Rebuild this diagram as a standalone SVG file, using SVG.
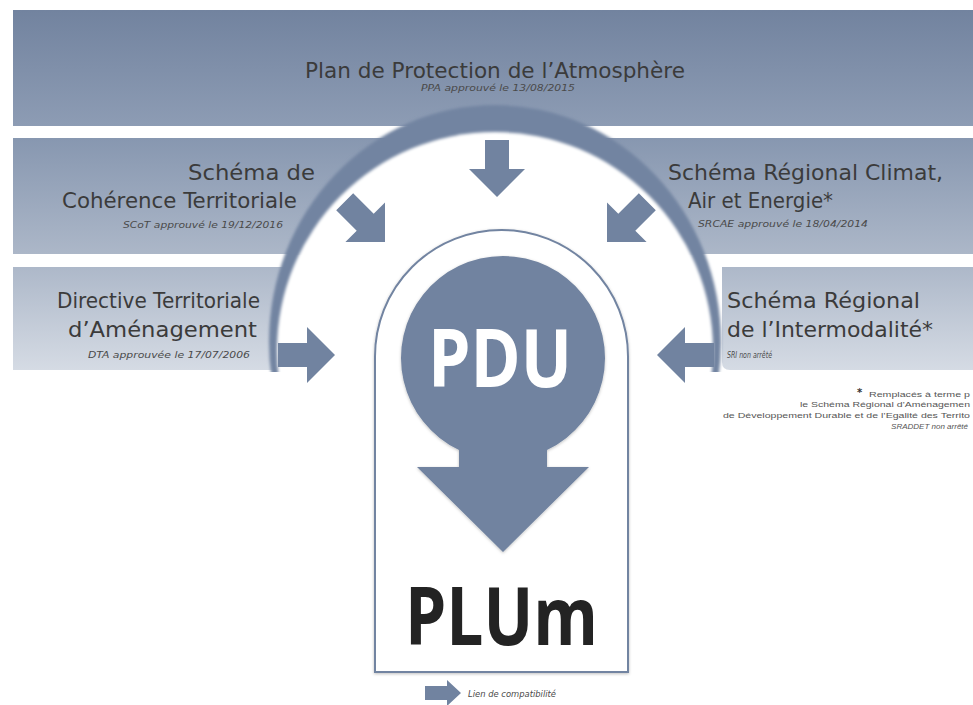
<svg xmlns="http://www.w3.org/2000/svg" xmlns:xlink="http://www.w3.org/1999/xlink" width="973" height="705" viewBox="0 0 973 705">
  <defs>
    <linearGradient id="g1" x1="0" y1="0" x2="0" y2="1">
      <stop offset="0" stop-color="#72839f"/>
      <stop offset="1" stop-color="#8d9cb4"/>
    </linearGradient>
    <linearGradient id="g2" x1="0" y1="0" x2="0" y2="1">
      <stop offset="0" stop-color="#8797b0"/>
      <stop offset="1" stop-color="#acb7c8"/>
    </linearGradient>
    <linearGradient id="g3" x1="0" y1="0" x2="0" y2="1">
      <stop offset="0" stop-color="#adb8c9"/>
      <stop offset="1" stop-color="#d5dbe4"/>
    </linearGradient>
    <clipPath id="ringClip">
      <rect x="0" y="0" width="973" height="372"/>
    </clipPath>
    <filter id="soft" x="-10%" y="-10%" width="120%" height="120%">
      <feGaussianBlur stdDeviation="1.6"/>
    </filter>
    <filter id="shadow" x="-10%" y="-10%" width="120%" height="120%">
      <feDropShadow dx="0" dy="1" stdDeviation="1.5" flood-color="#000" flood-opacity="0.25"/>
    </filter>
    <path id="arr" d="M0,0 L-28,-28 L-28,-12 L-57,-12 L-57,12 L-28,12 L-28,28 Z"/>
    <style>
      .lbl { font-family: "DejaVu Sans", "Liberation Sans", sans-serif; fill: #3b3b3b; font-size: 21px; }
      .sub { font-family: "DejaVu Sans", "Liberation Sans", sans-serif; fill: #4a4a4a; font-size: 8.5px; font-style: italic; }
      .note { font-family: "Liberation Sans", "DejaVu Sans", sans-serif; fill: #555; font-size: 8px; }
      .big { font-family: "Open Sans", "Liberation Sans", sans-serif; font-weight: 700; font-size: 80px; }
      .arrow { fill: #7183a0; }
    </style>
  </defs>

  <rect width="973" height="705" fill="#ffffff"/>

  <!-- bands -->
  <g id="bands">
    <rect x="13" y="10" width="960" height="116" fill="url(#g1)"/>
    <rect x="13" y="138" width="960" height="116" fill="url(#g2)"/>
    <path d="M13,267 H292 V362 Q292,370 284,370 H13 Z" fill="url(#g3)"/>
    <path d="M973,267 H722 V362 Q722,370 730,370 H973 Z" fill="url(#g3)"/>
  </g>

  <!-- arc ring -->
  <g id="ring" clip-path="url(#ringClip)">
    <ellipse cx="495" cy="342" rx="226" ry="237" fill="#7284a1" filter="url(#soft)"/>
    <circle cx="495" cy="350" r="218" fill="#ffffff" filter="url(#soft)"/>
  </g>

  <!-- container arch -->
  <g id="node-container">
    <path d="M375,672 V356.5 A126.5,126.5 0 0 1 628,356.5 V672 Z" fill="#ffffff" stroke="#7284a1" stroke-width="2" filter="url(#shadow)"/>
  </g>

  <g id="node-ppa">
    <text class="lbl" x="305" y="78" textLength="380" lengthAdjust="spacingAndGlyphs">Plan de Protection de l’Atmosphère</text>
    <text class="sub" x="421" y="91" textLength="154" lengthAdjust="spacingAndGlyphs">PPA approuvé le 13/08/2015</text>
  </g>

  <g id="node-scot">
    <text class="lbl" x="188" y="180" textLength="127" lengthAdjust="spacingAndGlyphs">Schéma de</text>
    <text class="lbl" x="62" y="208" textLength="235" lengthAdjust="spacingAndGlyphs">Cohérence Territoriale</text>
    <text class="sub" x="123" y="228" textLength="160" lengthAdjust="spacingAndGlyphs">SCoT approuvé le 19/12/2016</text>
  </g>

  <g id="node-dta">
    <text class="lbl" x="57" y="308" textLength="203" lengthAdjust="spacingAndGlyphs">Directive Territoriale</text>
    <text class="lbl" x="68" y="337" textLength="189" lengthAdjust="spacingAndGlyphs">d’Aménagement</text>
    <text class="sub" x="88" y="358" textLength="162" lengthAdjust="spacingAndGlyphs">DTA approuvée le 17/07/2006</text>
  </g>

  <g id="node-srcae">
    <text class="lbl" x="668" y="180" textLength="275" lengthAdjust="spacingAndGlyphs">Schéma Régional Climat,</text>
    <text class="lbl" x="688" y="208" textLength="145" lengthAdjust="spacingAndGlyphs">Air et Energie*</text>
    <text class="sub" x="698" y="227" textLength="170" lengthAdjust="spacingAndGlyphs">SRCAE approuvé le 18/04/2014</text>
  </g>

  <g id="node-sri">
    <text class="lbl" x="727" y="308" textLength="193" lengthAdjust="spacingAndGlyphs">Schéma Régional</text>
    <text class="lbl" x="727" y="337" textLength="206" lengthAdjust="spacingAndGlyphs">de l’Intermodalité*</text>
    <text class="sub" x="727" y="358" textLength="45" lengthAdjust="spacingAndGlyphs">SRI non arrêté</text>
  </g>

  <g id="node-pdu">
    <path class="arrow" filter="url(#shadow)" d="M459,450 A102,102 0 1 1 547,450 V467 H589 L503,552 L417,467 H459 Z"/>
    <text class="big" x="428" y="387" fill="#ffffff" textLength="144" lengthAdjust="spacingAndGlyphs">PDU</text>
  </g>

  <g id="node-plum">
    <text class="big" x="405" y="645" fill="#232323" textLength="193" lengthAdjust="spacingAndGlyphs">PLUm</text>
  </g>

  <g id="connectors">
    <use xlink:href="#arr" class="arrow" transform="translate(497,197) rotate(90)"/>
    <use xlink:href="#arr" class="arrow" transform="translate(385,242) rotate(45)"/>
    <use xlink:href="#arr" class="arrow" transform="translate(607,242) rotate(135)"/>
    <use xlink:href="#arr" class="arrow" transform="translate(335,355)"/>
    <use xlink:href="#arr" class="arrow" transform="translate(657,355) rotate(180)"/>
  </g>

  <g id="footnote">
    <text x="857" y="396" font-family="DejaVu Sans, sans-serif" font-size="10" font-weight="700" fill="#333">*</text>
    <text class="note" x="869" y="397" textLength="101" lengthAdjust="spacingAndGlyphs">Remplacés à terme p</text>
    <text class="note" x="800" y="407" textLength="170" lengthAdjust="spacingAndGlyphs">le Schéma Régional d’Aménagemen</text>
    <text class="note" x="723" y="418" textLength="247" lengthAdjust="spacingAndGlyphs">de Développement Durable et de l’Egalité des Territo</text>
    <text class="note" x="968" y="429" font-size="6.5" font-style="italic" text-anchor="end">SRADDET non arrêté</text>
  </g>

  <g id="legend">
    <polygon class="arrow" points="425,686 447,686 447,680 461,693 447,706 447,700 425,700"/>
    <text class="sub" x="468" y="697" textLength="88" lengthAdjust="spacingAndGlyphs">Lien de compatibilité</text>
  </g>
</svg>
